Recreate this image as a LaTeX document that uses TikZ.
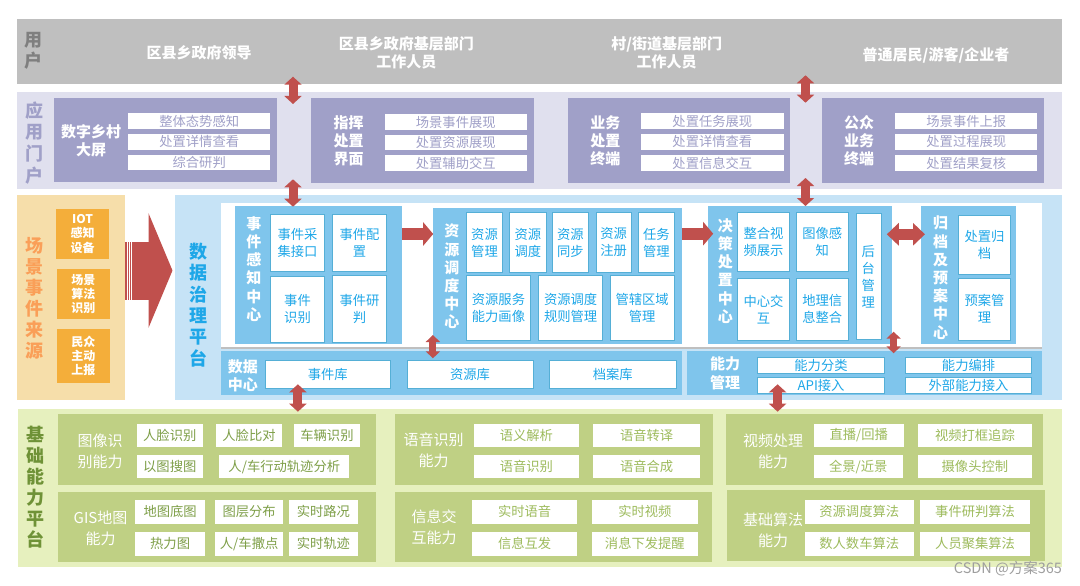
\documentclass[tikz,border=0pt]{standalone}
\usepackage{fontspec}
\setmainfont{Noto Sans CJK SC}
\usetikzlibrary{arrows.meta}
\definecolor{usergrey}{HTML}{BFBFBF}
\definecolor{titlegrey}{HTML}{7F7F7F}
\definecolor{portalbg}{HTML}{E0E0EE}
\definecolor{portal}{HTML}{A0A0C8}
\definecolor{scenebg}{HTML}{F6DEAA}
\definecolor{sceneorange}{HTML}{F4AE3A}
\definecolor{scenetitle}{HTML}{FA9F58}
\definecolor{govbg}{HTML}{C6E3F6}
\definecolor{govblue}{HTML}{7FC5EC}
\definecolor{govtext}{HTML}{1EA7E8}
\definecolor{govline}{HTML}{55AFD6}
\definecolor{basebg}{HTML}{E6F0BE}
\definecolor{basegreen}{HTML}{BFD084}
\definecolor{basetitle}{HTML}{6F9237}
\definecolor{basedark}{HTML}{7E9F48}
\definecolor{baselight}{HTML}{9DBB5C}
\definecolor{redarrow}{HTML}{C0504D}
\newcommand{\blk}[7]{\node[#1,minimum width={(#5-#3)*1pt},minimum height={(#6-#4)*1pt}] (#2) at ({(#3+#5)/2},{(#4+#6)/2}) {#7};}
\tikzset{
  panel/.style={inner sep=0pt,outer sep=0pt},
  usertext/.style={inner sep=0pt,align=center,text=white,font=\fontsize{15}{18}\selectfont\bfseries},
  bigtitle/.style={inner sep=0pt,align=center,font=\fontsize{18}{21}\selectfont\bfseries},
  midtitle/.style={inner sep=0pt,align=center,text=white,font=\fontsize{15}{18.2}\selectfont\bfseries},
  basehead/.style={inner sep=0pt,align=center,text=white,font=\fontsize{15}{21}\selectfont},
  portalitem/.style={panel,fill=white,text=portal,font=\fontsize{13.3}{16}\selectfont},
  sceneitem/.style={panel,fill=sceneorange,align=center,text=white,font=\fontsize{12}{14.3}\selectfont\bfseries},
  govitem/.style={panel,fill=white,draw=govline,line width=.5pt,align=center,text=govtext,font=\fontsize{13.3}{17}\selectfont},
  basel/.style={panel,fill=white,text=basedark,font=\fontsize{13.3}{16}\selectfont},
  baser/.style={panel,fill=white,text=baselight,font=\fontsize{13.3}{16}\selectfont},
  dblarrow/.style={draw=redarrow,line width=9pt,{Triangle[length=8pt,width=17pt]}-{Triangle[length=8pt,width=17pt]}},
  slimarrow/.style={draw=redarrow,line width=7pt,{Triangle[length=7pt,width=14pt]}-{Triangle[length=7pt,width=14pt]}},
  wideoarrow/.style={draw=redarrow,line width=11pt,{Triangle[length=12pt,width=22pt]}-{Triangle[length=12pt,width=22pt]}},
  onearrow/.style={draw=redarrow,line width=12pt,-{Triangle[length=10pt,width=23pt]}},
  bigarrow/.style={draw=redarrow,line width=58pt,-{Triangle[length=24pt,width=114pt]}}
}
\begin{document}
\begin{tikzpicture}[x=1pt,y=-1pt]
\useasboundingbox (0,0) rectangle (1080,586);
\blk{panel,fill=usergrey}{userband}{17}{19}{1061.5}{84.5}{}
\node[bigtitle,text=titlegrey,font=\fontsize{18}{21}\selectfont\bfseries] (usertitle) at (33,51) {用\\户};
\node[usertext] (user1) at (199,53) {区县乡政府领导};
\node[usertext] (user2) at (406.3,53) {区县乡政府基层部门\\工作人员};
\node[usertext] (user3) at (666.7,53) {村/街道基层部门\\工作人员};
\node[usertext] (user4) at (936,55.7) {普通居民/游客/企业者};

\blk{panel,fill=portalbg}{portalband}{17}{92}{1061.5}{189}{}
\node[bigtitle,text=portal,font=\fontsize{18}{21.7}\selectfont\bfseries] (portaltitle) at (34.4,142.7) {应\\用\\门\\户};
\blk{panel,fill=portal}{screen}{54.4}{98}{277}{182}{}
\blk{panel,fill=portal}{command}{311}{98}{533.8}{182.5}{}
\blk{panel,fill=portal}{worker}{568.2}{98}{790.3}{182.5}{}
\blk{panel,fill=portal}{public}{821.7}{98}{1044.1}{182.5}{}
\node[midtitle] (screentitle) at (91,141) {数字乡村\\大屏};
\node[midtitle] (commandtitle) at (348.5,141) {指挥\\处置\\界面};
\node[midtitle] (workertitle) at (605.4,141) {业务\\处置\\终端};
\node[midtitle] (publictitle) at (859,141) {公众\\业务\\终端};
\blk{portalitem}{s1}{128.4}{113}{270}{129}{整体态势感知}
\blk{portalitem}{s2}{128.4}{134}{270}{149.5}{处置详情查看}
\blk{portalitem}{s3}{128.4}{155}{270}{170}{综合研判}
\blk{portalitem}{c1}{385}{114}{526.5}{130}{场景事件展现}
\blk{portalitem}{c2}{385}{135}{526.5}{150}{处置资源展现}
\blk{portalitem}{c3}{385}{155}{526.5}{171}{处置辅助交互}
\blk{portalitem}{w1}{641.2}{113}{783.5}{129}{处置任务展现}
\blk{portalitem}{w2}{641.2}{134}{783.5}{149.5}{处置详情查看}
\blk{portalitem}{w3}{641.2}{155}{783.5}{171}{处置信息交互}
\blk{portalitem}{p1}{895.4}{113}{1037.2}{129}{场景事件上报}
\blk{portalitem}{p2}{895.4}{134}{1037.2}{149.5}{处置过程展现}
\blk{portalitem}{p3}{895.4}{155}{1037.2}{171}{处置结果复核}

\blk{panel,fill=scenebg}{sceneband}{17}{195}{124.7}{399.5}{}
\node[bigtitle,text=scenetitle] (scenetitle) at (34.4,298) {场\\景\\事\\件\\来\\源};
\blk{sceneitem}{iot}{56.1}{209}{109.2}{259}{IOT\\感知\\设备}
\blk{sceneitem}{algo}{57.2}{269}{109.5}{319}{场景\\算法\\识别}
\blk{sceneitem}{citizen}{57.2}{328.7}{109.5}{383}{民众\\主动\\上报}

\blk{panel,fill=govbg}{govband}{174.6}{195}{1061.5}{400}{}
\blk{panel,fill=white}{govinner}{221}{203}{1042}{347}{}
\blk{panel,fill=usergrey}{govrule}{221}{347}{1042}{349}{}
\node[bigtitle,text=govtext,font=\fontsize{18}{21.3}\selectfont\bfseries] (govtitle) at (198.7,305) {数\\据\\治\\理\\平\\台};

\blk{panel,fill=govblue}{eventc}{235.2}{205.7}{401.9}{344}{}
\node[midtitle] (eventtitle) at (253.8,269) {事\\件\\感\\知\\中\\心};
\blk{govitem}{e1}{270.3}{214.3}{324.7}{271}{事件采\\集接口}
\blk{govitem}{e2}{332.6}{214.3}{386.4}{271}{事件配\\置}
\blk{govitem}{e3}{270.3}{276.7}{324.7}{342}{事件\\识别}
\blk{govitem}{e4}{332.6}{275.7}{386.4}{342}{事件研\\判}

\blk{panel,fill=govblue}{resc}{432.9}{207.7}{681.5}{344}{}
\node[midtitle] (restitle) at (451.8,276.7) {资\\源\\调\\度\\中\\心};
\blk{govitem}{r1}{466.6}{212.3}{502.4}{272.7}{资源\\管理}
\blk{govitem}{r2}{509.6}{212.3}{546}{272.7}{资源\\调度}
\blk{govitem}{r3}{552.4}{212.3}{588.2}{272.7}{资源\\同步}
\blk{govitem}{r4}{595.8}{212.3}{631.3}{272.7}{资源\\注册}
\blk{govitem}{r5}{638.5}{212.3}{674.3}{272.7}{任务\\管理}
\blk{govitem}{r6}{466.6}{275.7}{530.3}{340}{资源服务\\能力画像}
\blk{govitem}{r7}{538.6}{275.7}{602.7}{340}{资源调度\\规则管理}
\blk{govitem}{r8}{609.9}{275.7}{674.3}{340}{管辖区域\\管理}

\blk{panel,fill=govblue}{decide}{707.7}{205.7}{891.9}{344}{}
\node[midtitle] (decidetitle) at (725.3,271) {决\\策\\处\\置\\中\\心};
\blk{govitem}{d1}{737.3}{212.3}{789.7}{271}{整合视\\频展示}
\blk{govitem}{d2}{796.2}{212.3}{848.2}{271}{图像感\\知}
\blk{govitem}{d3}{737.3}{278.3}{789.7}{340}{中心交\\互}
\blk{govitem}{d4}{796.2}{278.3}{848.2}{340}{地理信\\息整合}
\blk{govitem}{d5}{855.8}{213.3}{880.9}{339.3}{后\\台\\管\\理}

\blk{panel,fill=govblue}{archive}{921.2}{205.7}{1015.9}{344}{}
\node[midtitle] (archivetitle) at (940.5,277.7) {归\\档\\及\\预\\案\\中\\心};
\blk{govitem}{a1}{958.4}{215}{1010.7}{274.3}{处置归\\档}
\blk{govitem}{a2}{958.4}{278.3}{1010.7}{340}{预案管\\理}

\blk{panel,fill=govblue}{databar}{221}{351}{681.5}{395}{}
\node[midtitle] (datatitle) at (242.8,375.7) {数据\\中心};
\blk{govitem}{db1}{265.2}{360.7}{390.2}{388.3}{事件库}
\blk{govitem}{db2}{407}{360.7}{533}{388.3}{资源库}
\blk{govitem}{db3}{549.6}{360.7}{676}{388.3}{档案库}

\blk{panel,fill=govblue}{abilitybar}{687}{351}{1042}{395}{}
\node[midtitle] (abilitytitle) at (725,373.3) {能力\\管理};
\blk{govitem}{m1}{757.6}{357.7}{884.4}{373.3}{能力分类}
\blk{govitem}{m2}{757.6}{377.7}{884.4}{393.3}{API接入}
\blk{govitem}{m3}{905.7}{357.7}{1031.4}{373.3}{能力编排}
\blk{govitem}{m4}{905.7}{377.7}{1031.4}{393.3}{外部能力接入}

\blk{panel,fill=basebg}{baseband}{17.9}{409}{1062}{566.7}{}
\node[bigtitle,text=basetitle] (basetitle) at (35.5,487) {基\\础\\能\\力\\平\\台};
\blk{panel,fill=basegreen}{image}{57.9}{414}{376}{485.3}{}
\blk{panel,fill=basegreen}{gis}{57.9}{491.7}{376}{562}{}
\blk{panel,fill=basegreen}{voice}{394.6}{414}{712.9}{485.3}{}
\blk{panel,fill=basegreen}{info}{394.6}{491.7}{711.8}{562}{}
\blk{panel,fill=basegreen}{video}{726.3}{414}{1043.4}{485.3}{}
\blk{panel,fill=basegreen}{calc}{727}{490}{1044.8}{561}{}
\node[basehead] (imagehead) at (100.2,451) {图像识\\别能力};
\node[basehead] (gishead) at (100.5,528) {GIS地图\\能力};
\node[basehead] (voicehead) at (433.5,450) {语音识别\\能力};
\node[basehead] (infohead) at (434,527.3) {信息交\\互能力};
\node[basehead] (videohead) at (773,451.7) {视频处理\\能力};
\node[basehead] (calchead) at (773,530.7) {基础算法\\能力};
\blk{basel}{i1}{137}{424}{202.5}{447}{人脸识别}
\blk{basel}{i2}{216.3}{424}{281.7}{447}{人脸比对}
\blk{basel}{i3}{294}{424}{359.9}{447}{车辆识别}
\blk{basel}{i4}{137}{455}{202.5}{478.3}{以图搜图}
\blk{basel}{i5}{219.4}{455}{349.2}{478.3}{人/车行动轨迹分析}
\blk{basel}{g1}{135.3}{499.7}{204.9}{523.7}{地图底图}
\blk{basel}{g2}{214.9}{499.7}{283.4}{523.7}{图层分布}
\blk{basel}{g3}{288.6}{499.7}{358.1}{523.7}{实时路况}
\blk{basel}{g4}{135.3}{531.7}{204.9}{555.7}{热力图}
\blk{basel}{g5}{214.9}{531.7}{283.4}{555.7}{人/车撒点}
\blk{basel}{g6}{288.6}{531.7}{358.1}{555.7}{实时轨迹}
\blk{baser}{v1}{473.8}{424}{578.9}{447}{语义解析}
\blk{baser}{v2}{593.4}{424}{699.8}{447}{语音转译}
\blk{baser}{v3}{473.8}{455}{578.9}{478.3}{语音识别}
\blk{baser}{v4}{593.4}{455}{699.8}{478.3}{语音合成}
\blk{baser}{n1}{472.1}{499.7}{577.2}{523.7}{实时语音}
\blk{baser}{n2}{591.7}{499.7}{698}{523.7}{实时视频}
\blk{baser}{n3}{472.1}{531.7}{577.2}{555.7}{信息互发}
\blk{baser}{n4}{591.7}{531.7}{698}{555.7}{消息下发提醒}
\blk{baser}{o1}{813.8}{424}{903.6}{447}{直播/回播}
\blk{baser}{o2}{917.8}{424}{1032}{447}{视频打框追踪}
\blk{baser}{o3}{813.8}{455}{902.6}{478.3}{全景/近景}
\blk{baser}{o4}{917.8}{455}{1032}{478.3}{摄像头控制}
\blk{baser}{k1}{804.5}{499.7}{914}{523.7}{资源调度算法}
\blk{baser}{k2}{920.2}{499.7}{1030}{523.7}{事件研判算法}
\blk{baser}{k3}{804.5}{531.7}{914}{555.7}{数人数车算法}
\blk{baser}{k4}{920.2}{531.7}{1030}{555.7}{人员聚集算法}

\coordinate (a1t) at (293,76.7);
\coordinate (a1b) at (293,104);
\coordinate (a2t) at (293,179.3);
\coordinate (a2b) at (293,206.7);
\coordinate (a3t) at (805.5,75.3);
\coordinate (a3b) at (805.5,102.7);
\coordinate (a4t) at (805.5,178);
\coordinate (a4b) at (805.5,206);
\coordinate (a5t) at (432.9,335);
\coordinate (a5b) at (432.9,358.3);
\coordinate (a6t) at (893.6,331.7);
\coordinate (a6b) at (893.6,353.3);
\coordinate (a7t) at (297.9,384.3);
\coordinate (a7b) at (297.9,411.7);
\coordinate (a8t) at (777.6,384.3);
\coordinate (a8b) at (777.6,411.7);
\coordinate (a9l) at (886.8,234.3);
\coordinate (a9r) at (925,234.3);
\coordinate (f1s) at (401.9,234);
\coordinate (f1e) at (433.2,234);
\coordinate (f2s) at (681.5,233.7);
\coordinate (f2e) at (713.2,233.7);
\coordinate (bigs) at (124.7,270.5);
\coordinate (bige) at (172.5,270.5);
\draw[dblarrow] (a1t) -- (a1b);
\draw[dblarrow] (a2t) -- (a2b);
\draw[dblarrow] (a3t) -- (a3b);
\draw[dblarrow] (a4t) -- (a4b);
\draw[slimarrow] (a5t) -- (a5b);
\draw[slimarrow] (a6t) -- (a6b);
\draw[dblarrow] (a7t) -- (a7b);
\draw[dblarrow] (a8t) -- (a8b);
\draw[wideoarrow] (a9l) -- (a9r);
\draw[onearrow] (f1s) -- (f1e);
\draw[onearrow] (f2s) -- (f2e);
\draw[bigarrow] (bigs) -- (bige);
\foreach \sx in {127,129,131}
  \draw[white,line width=.5pt] (\sx,241.5) -- (\sx,299.5);

\node[inner sep=0pt,text=black!38,font=\fontsize{14.5}{15}\selectfont] (mark) at (1008,569) {CSDN @方案365};
\end{tikzpicture}
\end{document}
